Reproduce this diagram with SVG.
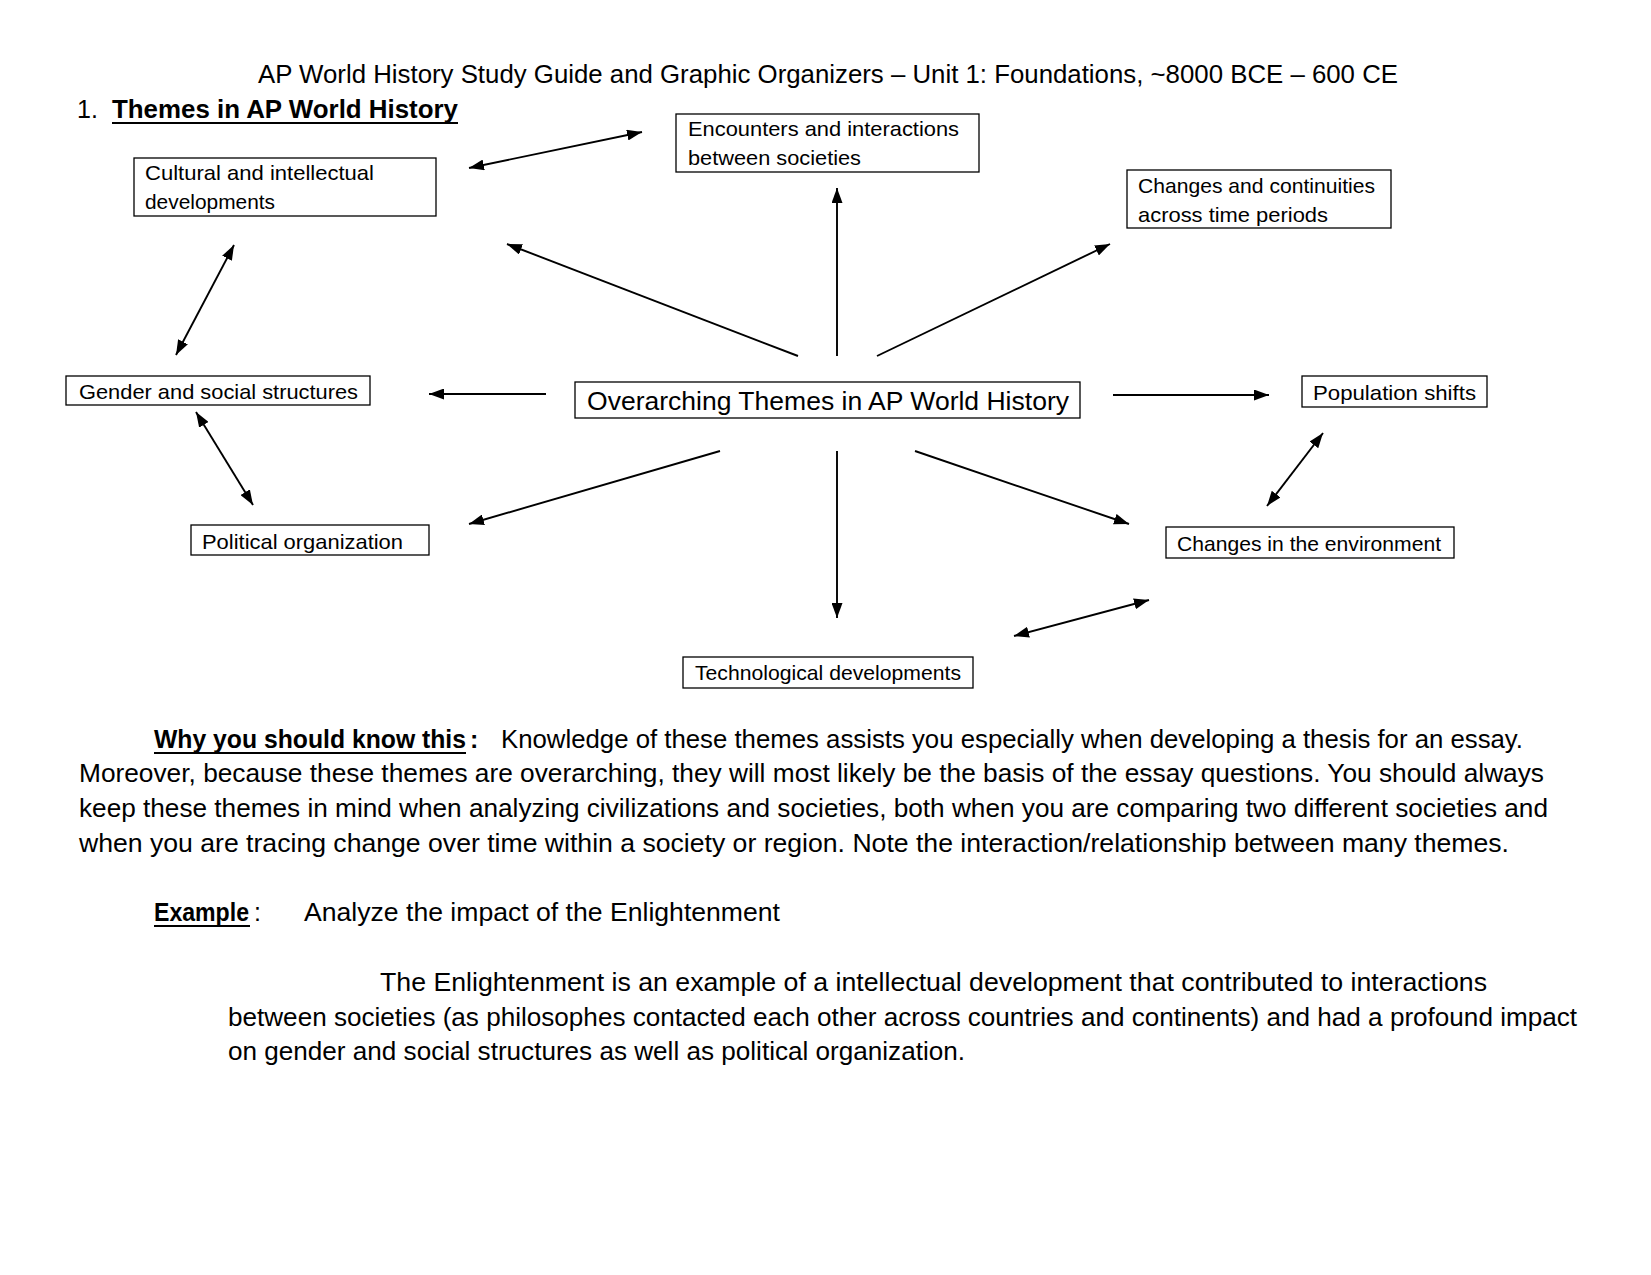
<svg xmlns="http://www.w3.org/2000/svg" width="1651" height="1275" viewBox="0 0 1651 1275">
<style>
  text { font-family: "Liberation Sans", Arial, sans-serif; fill: #000; }
  .t { font-size: 25px; }
  .bx { font-size: 21px; }
  .big { font-size: 25px; }
  .b { font-weight: bold; }
  rect.node { fill: #fff; stroke: #000; stroke-width: 1.3; }
  .conn line { stroke: #000; stroke-width: 1.9; }
  .ul { stroke: #000; stroke-width: 2; }
</style>
<defs>
  <marker id="ah" viewBox="0 0 15 11" refX="15" refY="5.5" markerWidth="15" markerHeight="11" markerUnits="userSpaceOnUse" orient="auto-start-reverse">
    <path d="M0,0 L15,5.5 L0,11 Z" fill="#000"/>
  </marker>
</defs>
<rect width="1651" height="1275" fill="#fff"/>

<g id="header">
  <text class="t" x="258" y="83" textLength="1140" lengthAdjust="spacingAndGlyphs">AP World History Study Guide and Graphic Organizers – Unit 1: Foundations, ~8000 BCE – 600 CE</text>
  <text class="t" x="77" y="118">1.</text>
  <text class="t b" x="112" y="118" textLength="346" lengthAdjust="spacingAndGlyphs">Themes in AP World History</text>
  <line class="ul" x1="112" y1="123" x2="458" y2="123"/>
</g>

<g id="node-cultural">
  <rect class="node" x="134" y="158" width="302" height="58"/>
  <text class="bx" x="145" y="180" textLength="229" lengthAdjust="spacingAndGlyphs">Cultural and intellectual</text>
  <text class="bx" x="145" y="209" textLength="130" lengthAdjust="spacingAndGlyphs">developments</text>
</g>
<g id="node-encounters">
  <rect class="node" x="676" y="114" width="303" height="58"/>
  <text class="bx" x="688" y="136" textLength="271" lengthAdjust="spacingAndGlyphs">Encounters and interactions</text>
  <text class="bx" x="688" y="165" textLength="173" lengthAdjust="spacingAndGlyphs">between societies</text>
</g>
<g id="node-changes">
  <rect class="node" x="1127" y="170" width="264" height="58"/>
  <text class="bx" x="1138" y="193" textLength="237" lengthAdjust="spacingAndGlyphs">Changes and continuities</text>
  <text class="bx" x="1138" y="222" textLength="190" lengthAdjust="spacingAndGlyphs">across time periods</text>
</g>
<g id="node-gender">
  <rect class="node" x="66" y="376" width="304" height="29"/>
  <text class="bx" x="79" y="399" textLength="279" lengthAdjust="spacingAndGlyphs">Gender and social structures</text>
</g>
<g id="node-center">
  <rect class="node" x="575" y="382" width="505" height="36"/>
  <text class="big" x="587" y="410" textLength="482" lengthAdjust="spacingAndGlyphs">Overarching Themes in AP World History</text>
</g>
<g id="node-population">
  <rect class="node" x="1302" y="376" width="185" height="31"/>
  <text class="bx" x="1313" y="400" textLength="163" lengthAdjust="spacingAndGlyphs">Population shifts</text>
</g>
<g id="node-political">
  <rect class="node" x="191" y="525" width="238" height="30"/>
  <text class="bx" x="202" y="549" textLength="201" lengthAdjust="spacingAndGlyphs">Political organization</text>
</g>
<g id="node-environment">
  <rect class="node" x="1166" y="527" width="288" height="31"/>
  <text class="bx" x="1177" y="551" textLength="264" lengthAdjust="spacingAndGlyphs">Changes in the environment</text>
</g>
<g id="node-technological">
  <rect class="node" x="683" y="657" width="290" height="31"/>
  <text class="bx" x="695" y="680" textLength="266" lengthAdjust="spacingAndGlyphs">Technological developments</text>
</g>

<g id="connectors" class="conn">
  <line x1="469" y1="168" x2="642" y2="132" marker-start="url(#ah)" marker-end="url(#ah)"/>
  <line x1="234" y1="245" x2="176" y2="355" marker-start="url(#ah)" marker-end="url(#ah)"/>
  <line x1="196" y1="412" x2="253" y2="505" marker-start="url(#ah)" marker-end="url(#ah)"/>
  <line x1="546" y1="394" x2="429" y2="394" marker-end="url(#ah)"/>
  <line x1="798" y1="356" x2="507" y2="244" marker-end="url(#ah)"/>
  <line x1="837" y1="356" x2="837" y2="188" marker-end="url(#ah)"/>
  <line x1="877" y1="356" x2="1110" y2="244" marker-end="url(#ah)"/>
  <line x1="1113" y1="395" x2="1269" y2="395" marker-end="url(#ah)"/>
  <line x1="1323" y1="433" x2="1267" y2="506" marker-start="url(#ah)" marker-end="url(#ah)"/>
  <line x1="915" y1="451" x2="1129" y2="524" marker-end="url(#ah)"/>
  <line x1="720" y1="451" x2="469" y2="524" marker-end="url(#ah)"/>
  <line x1="837" y1="451" x2="837" y2="618" marker-end="url(#ah)"/>
  <line x1="1014" y1="636" x2="1149" y2="600" marker-start="url(#ah)" marker-end="url(#ah)"/>
</g>

<g id="body">
  <text class="t b" x="154" y="748" textLength="312" lengthAdjust="spacingAndGlyphs">Why you should know this</text>
  <line class="ul" x1="154" y1="753" x2="466" y2="753"/>
  <text class="t b" x="470" y="748">:</text>
  <text class="t" x="501" y="748" textLength="1022" lengthAdjust="spacingAndGlyphs">Knowledge of these themes assists you especially when developing a thesis for an essay.</text>
  <text class="t" x="79" y="782" textLength="1465" lengthAdjust="spacingAndGlyphs">Moreover, because these themes are overarching, they will most likely be the basis of the essay questions.  You should always</text>
  <text class="t" x="79" y="817" textLength="1469" lengthAdjust="spacingAndGlyphs">keep these themes in mind when analyzing civilizations and societies, both when you are comparing two different societies and</text>
  <text class="t" x="79" y="852" textLength="1430" lengthAdjust="spacingAndGlyphs">when you are tracing change over time within a society or region.  Note the interaction/relationship between many themes.</text>

  <text class="t b" x="154" y="921" textLength="95" lengthAdjust="spacingAndGlyphs">Example</text>
  <line class="ul" x1="154" y1="926" x2="250" y2="926"/>
  <text class="t" x="254" y="921">:</text>
  <text class="t" x="304" y="921" textLength="476" lengthAdjust="spacingAndGlyphs">Analyze the impact of the Enlightenment</text>

  <text class="t" x="380" y="991" textLength="1107" lengthAdjust="spacingAndGlyphs">The Enlightenment is an example of a intellectual development that contributed to interactions</text>
  <text class="t" x="228" y="1026" textLength="1349" lengthAdjust="spacingAndGlyphs">between societies (as philosophes contacted each other across countries and continents) and had a profound impact</text>
  <text class="t" x="228" y="1060" textLength="737" lengthAdjust="spacingAndGlyphs">on gender and social structures as well as political organization.</text>
</g>
</svg>
